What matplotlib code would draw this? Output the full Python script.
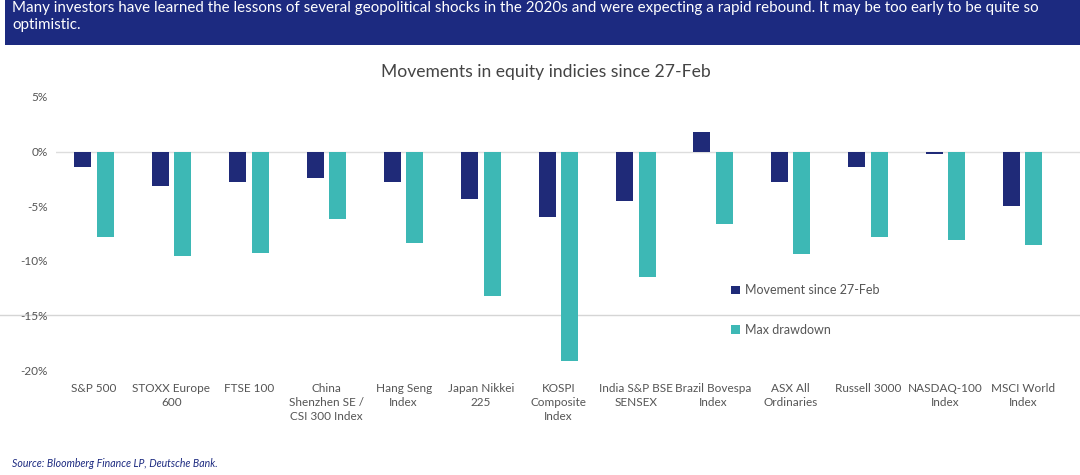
import numpy as np
import matplotlib
matplotlib.use("Agg")
import matplotlib.pyplot as plt
from matplotlib.patches import Rectangle

plt.rcParams.update({
    "font.family": ["Lato", "DejaVu Sans"],
    "font.size": 9,
})

# data
categories = ["S&P 500", "STOXX Europe\n600", "FTSE 100", "China\nShenzhen SE /\nCSI 300 Index",
              "Hang Seng\nIndex", "Japan Nikkei\n225", "KOSPI\nComposite\nIndex",
              "India S&P BSE\nSENSEX", "Brazil Bovespa\nIndex", "ASX All\nOrdinaries",
              "Russell 3000", "NASDAQ-100\nIndex", "MSCI World\nIndex"]
movement = [-1.4, -3.2, -2.8, -2.4, -2.8, -4.3, -6.0, -4.5, 1.8, -2.8, -1.4, -0.2, -5.0]
drawdown = [-7.8, -9.6, -9.3, -6.2, -8.4, -13.2, -19.2, -11.5, -6.6, -9.4, -7.8, -8.1, -8.6]
yticks = [5, 0, -5, -10, -15, -20]

navy = "#1f2a78"
teal = "#3db8b5"
grey_text = "#555555"

fig = plt.figure(figsize=(10.8, 4.75), dpi=100)

# header banner
fig.patches.append(Rectangle((0.005, 0.905), 0.995, 0.095, transform=fig.transFigure,
                             facecolor="#1c2a80", edgecolor="none"))
fig.text(0.011, 0.965, "Many investors have learned the lessons of several geopolitical shocks in the 2020s "
         "and were expecting a rapid rebound. It may be too early to be quite so\noptimistic.",
         color="white", fontsize=10.9, va="center", ha="left", linespacing=1.25)

fig.text(0.505, 0.848, "Movements in equity indicies since 27-Feb", ha="center", va="center",
         fontsize=12.6, color="#444444")

ax = fig.add_axes([0.052, 0.221, 0.948, 0.575])
x = np.arange(len(categories))
w = 0.22
ax.bar(x - 0.145, movement, width=w, color=navy, label="Movement since 27-Feb")
ax.bar(x + 0.145, drawdown, width=w, color=teal, label="Max drawdown")

ax.set_xlim(-0.49, 12.74)
ax.set_ylim(-20, 5)
ax.set_yticks(yticks)
ax.set_yticklabels([f"{v}%" for v in yticks], color=grey_text, fontsize=8.5)
ax.set_xticks(x)
ax.set_xticklabels(categories, color=grey_text, fontsize=8.5, linespacing=1.35, va="top")
ax.tick_params(length=0, pad=6)
ax.tick_params(axis="x", pad=9)
for s in ax.spines.values():
    s.set_visible(False)

ax.axhline(0, color="#dddddd", lw=1, zorder=0)
ax.axhline(-15, xmin=-0.06, xmax=1, color="#d5d5d5", lw=1, zorder=0, clip_on=False)

ax.legend(loc="upper left", bbox_to_anchor=(0.648, 0.355), frameon=False, fontsize=9,
          handlelength=0.7, handleheight=0.7, handletextpad=0.4, labelspacing=2.2,
          labelcolor=grey_text)

fig.text(0.011, 0.025, "Source: Bloomberg Finance LP, Deutsche Bank.", fontsize=7.6,
         style="italic", color="#1c2a80", ha="left", va="center")

plt.savefig("out.png", dpi=100)
